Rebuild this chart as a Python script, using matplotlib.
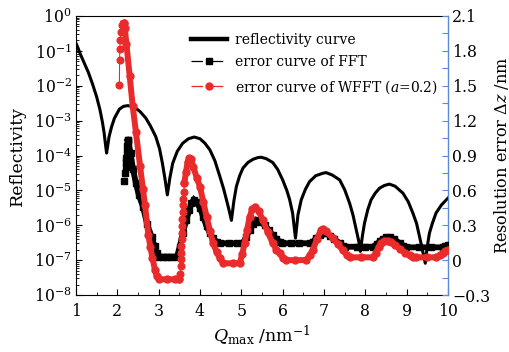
import numpy as np
import matplotlib
matplotlib.use("Agg")
import matplotlib.pyplot as plt
from matplotlib.lines import Line2D
from matplotlib.ticker import FixedLocator, FuncFormatter, LogLocator, NullFormatter

plt.rcParams['font.family'] = ['DejaVu Serif']
plt.rcParams['mathtext.fontset'] = 'dejavuserif'

# ---------------- data ----------------
# reflectivity curve: Q_max (nm^-1) and log10(reflectivity)
refl_q = [1.00, 1.05, 1.10, 1.20, 1.30, 1.40, 1.50, 1.58, 1.64, 1.68, 1.71, 1.74,
          1.77, 1.80, 1.86, 1.93, 2.05, 2.15, 2.25, 2.35, 2.45, 2.55, 2.69, 2.80,
          2.93, 3.02, 3.09, 3.15, 3.21, 3.27, 3.34, 3.45, 3.58, 3.72, 3.86, 4.00,
          4.12, 4.24, 4.36, 4.48, 4.57, 4.64, 4.70, 4.76, 4.82, 4.88, 4.96, 5.04,
          5.16, 5.28, 5.40, 5.48, 5.60, 5.76, 5.88, 6.00, 6.10, 6.17, 6.24, 6.31,
          6.37, 6.45, 6.55, 6.65, 6.80, 6.97, 7.05, 7.20, 7.38, 7.50, 7.62, 7.70,
          7.78, 7.84, 7.88, 7.93, 7.98, 8.06, 8.14, 8.24, 8.34, 8.46, 8.58, 8.72,
          8.91, 9.04, 9.15, 9.24, 9.31, 9.38, 9.45, 9.50, 9.55, 9.62, 9.71, 9.84,
          10.00]
refl_log = [-0.78, -0.92, -1.08, -1.35, -1.62, -1.95, -2.32, -2.69, -3.05, -3.35, -3.65, -3.93,
            -3.70, -3.46, -3.18, -2.93, -2.67, -2.59, -2.57, -2.59, -2.65, -2.74, -2.93, -3.15,
            -3.46, -3.80, -4.22, -4.65, -5.13, -4.65, -4.22, -3.88, -3.65, -3.52, -3.47, -3.52,
            -3.65, -3.84, -4.15, -4.60, -4.95, -5.27, -5.55, -5.86, -5.30, -4.89, -4.58, -4.36,
            -4.20, -4.11, -4.06, -4.05, -4.09, -4.20, -4.40, -4.70, -5.00, -5.27, -5.65, -6.37,
            -5.70, -5.27, -4.97, -4.75, -4.58, -4.51, -4.49, -4.56, -4.70, -4.98, -5.37, -5.70,
            -6.13, -6.45, -6.75, -6.30, -5.94, -5.55, -5.27, -5.08, -4.94, -4.86, -4.82, -4.88,
            -5.08, -5.33, -5.65, -5.95, -6.32, -6.70, -7.09, -6.60, -6.23, -5.95, -5.65, -5.42,
            -5.22]

# FFT resolution error (nm): sparse start, then dense band
fft_start_q = [2.17, 2.19, 2.20, 2.21, 2.22, 2.23, 2.24, 2.25]
fft_start_v = [0.68, 0.75, 0.80, 0.84, 0.88, 0.93, 0.98, 1.03]
fft_q = [2.25, 2.27, 2.32, 2.38, 2.45, 2.52, 2.62, 2.72, 2.83, 2.90, 2.95, 2.98,
         3.10, 3.20, 3.30, 3.44, 3.48, 3.51, 3.58, 3.67, 3.74, 3.79, 3.85, 3.90,
         4.00, 4.08, 4.16, 4.24, 4.32, 4.40, 4.48, 4.70, 4.90, 5.04, 5.12, 5.20,
         5.28, 5.36, 5.44, 5.57, 5.66, 5.76, 5.85, 5.93, 5.98, 6.20, 6.40, 6.65,
         6.73, 6.81, 6.90, 6.97, 7.05, 7.15, 7.25, 7.38, 7.45, 7.52, 7.80, 8.00,
         8.18, 8.28, 8.36, 8.42, 8.50, 8.60, 8.70, 8.83, 8.92, 8.99, 9.30, 9.60,
         9.87, 9.93, 10.00]
fft_v = [1.03, 1.02, 0.92, 0.78, 0.66, 0.56, 0.46, 0.31, 0.20, 0.12, 0.06, 0.03,
         0.03, 0.03, 0.03, 0.03, 0.07, 0.115, 0.23, 0.345, 0.43, 0.49, 0.52, 0.50,
         0.45, 0.37, 0.29, 0.23, 0.187, 0.16, 0.145, 0.145, 0.145, 0.15, 0.20, 0.26,
         0.31, 0.345, 0.33, 0.30, 0.26, 0.216, 0.18, 0.16, 0.145, 0.145, 0.145, 0.145,
         0.16, 0.187, 0.22, 0.23, 0.23, 0.21, 0.18, 0.145, 0.125, 0.115, 0.115, 0.115,
         0.115, 0.14, 0.165, 0.18, 0.195, 0.195, 0.18, 0.145, 0.125, 0.11, 0.11, 0.11,
         0.11, 0.12, 0.13]

# WFFT (a=0.2) resolution error (nm)
wfft_start_q = [2.05, 2.055, 2.06, 2.07, 2.09, 2.12, 2.15]
wfft_start_v = [1.51, 1.72, 1.82, 1.89, 1.96, 2.02, 2.04]
wfft_q1 = [2.15, 2.18, 2.22, 2.30, 2.37, 2.45, 2.55, 2.62, 2.67, 2.75, 2.80, 2.85,
           2.91, 2.96, 3.02, 3.20, 3.40, 3.50]
wfft_v1 = [2.04, 2.00, 1.86, 1.58, 1.33, 1.10, 0.81, 0.61, 0.47, 0.22, 0.11, 0.02,
           -0.085, -0.14, -0.165, -0.165, -0.165, -0.165]
wfft_rise_q = [3.50, 3.52, 3.53, 3.54, 3.545, 3.55, 3.555, 3.56, 3.565, 3.57, 3.58,
               3.59, 3.60, 3.61, 3.62]
wfft_rise_v = [-0.165, -0.12, -0.05, 0.01, 0.06, 0.12, 0.18, 0.23, 0.29, 0.35, 0.41,
               0.47, 0.53, 0.59, 0.66]
wfft_q2 = [3.62, 3.66, 3.70, 3.74, 3.78, 3.84, 3.92, 4.00, 4.08, 4.16, 4.24, 4.32,
           4.40, 4.48, 4.56, 4.80, 4.96, 5.02, 5.08, 5.14, 5.20, 5.27, 5.34, 5.42,
           5.52, 5.64, 5.76, 5.85, 5.93, 6.00, 6.09, 6.30, 6.57, 6.65, 6.73, 6.83,
           6.93, 6.97, 7.05, 7.21, 7.33, 7.45, 7.55, 7.62, 7.90, 8.18, 8.25, 8.32,
           8.38, 8.46, 8.54, 8.62, 8.72, 8.83, 8.95, 9.07, 9.15, 9.23, 9.50, 9.71,
           9.80, 9.87, 9.93, 10.00]
wfft_v2 = [0.66, 0.76, 0.84, 0.876, 0.87, 0.80, 0.71, 0.63, 0.50, 0.373, 0.25, 0.145,
           0.07, 0.016, -0.027, -0.027, -0.027, 0.05, 0.145, 0.26, 0.373, 0.44, 0.46, 0.42,
           0.345, 0.24, 0.145, 0.09, 0.06, 0.02, 0.0, 0.0, 0.0, 0.04, 0.09, 0.18,
           0.26, 0.27, 0.25, 0.188, 0.14, 0.087, 0.045, 0.024, 0.024, 0.024, 0.06, 0.11,
           0.145, 0.165, 0.167, 0.155, 0.13, 0.10, 0.065, 0.04, 0.03, 0.024, 0.024, 0.024,
           0.04, 0.06, 0.08, 0.09]

x_ticks = [1, 2, 3, 4, 5, 6, 7, 8, 9, 10]
right_ticks = [-0.3, 0, 0.3, 0.6, 0.9, 1.2, 1.5, 1.8, 2.1]
labels = ['reflectivity curve', 'error curve of FFT', 'error curve of WFFT ($a$=0.2)']

RED = '#ea2b2b'
BLUE = '#5b8ad6'

# ---------------- figure ----------------
fig = plt.figure(figsize=(5.10, 3.52), dpi=100)
ax = fig.add_axes([76/510, 1-295/352, (448-76)/510, (295-16)/352])
ax2 = ax.twinx()

ax.plot(refl_q, 10**np.array(refl_log), color='k', lw=2.2, zorder=3)
ax.set_yscale('log')
ax.set_ylim(1e-8, 1)
ax.set_xlim(1, 10)
ax.yaxis.set_major_locator(LogLocator(base=10, numticks=20))
ax.yaxis.set_minor_locator(LogLocator(base=10, subs=np.arange(2, 10), numticks=100))
ax.yaxis.set_minor_formatter(NullFormatter())
ax.xaxis.set_major_locator(FixedLocator(x_ticks))
ax.xaxis.set_minor_locator(FixedLocator(np.array(x_ticks[:-1]) + 0.5))
ax.tick_params(axis='both', which='major', direction='in', length=4.5, width=0.8,
               labelsize=11.3, top=False, right=False, pad=3)
ax.tick_params(axis='x', which='major', pad=6)
ax.tick_params(axis='both', which='minor', direction='in', length=2.5, width=0.6,
               top=False, right=False)
ax.spines['right'].set_visible(False)

# error curves on right axis
ax2.plot(fft_start_q, fft_start_v, color='k', lw=0.8, marker='s', ms=4.2,
         dashes=(3, 2), zorder=4)
ax2.plot(fft_q, fft_v, color='k', lw=4.2, marker='s', ms=4.8, zorder=4,
         solid_joinstyle='miter')
ax2.plot(wfft_start_q, wfft_start_v, color=RED, lw=0.8, marker='o', ms=4.8, zorder=5)
ax2.plot(wfft_q1, wfft_v1, color=RED, lw=4.3, marker='o', ms=5.0, zorder=5)
ax2.plot(wfft_rise_q, wfft_rise_v, color=RED, lw=0.8, marker='o', ms=4.8, zorder=5)
ax2.plot(wfft_q2, wfft_v2, color=RED, lw=4.3, marker='o', ms=5.0, zorder=5)
ax2.set_ylim(-0.3, 2.1)
ax2.yaxis.set_major_locator(FixedLocator(right_ticks))
ax2.yaxis.set_minor_locator(FixedLocator(np.array(right_ticks[:-1]) + 0.15))
ax2.yaxis.set_major_formatter(FuncFormatter(lambda v, p: ('%g' % round(v, 2)).replace('-', '\u2212')))
ax2.tick_params(axis='y', which='major', direction='in', length=4.5, width=0.8,
                color=BLUE, labelsize=11.3, labelcolor='k', pad=3)
ax2.tick_params(axis='y', which='minor', direction='in', length=4.5, width=0.8, color=BLUE)
for s in ['left', 'top', 'bottom']:
    ax2.spines[s].set_visible(False)
ax2.spines['right'].set_color(BLUE)
ax2.spines['right'].set_linewidth(1.0)

ax.set_ylabel('Reflectivity', fontsize=12.5, labelpad=6)
ax2.set_ylabel(r'Resolution error $\Delta z$ /nm', fontsize=11.6, labelpad=1)
ax.set_xlabel(r'$Q_{\rm max}$ /nm$^{-1}$', fontsize=12.5, labelpad=2)

handles = [
    Line2D([], [], color='k', lw=3.2),
    Line2D([], [], color='k', lw=0.9, marker='s', ms=4.5, dashes=(9.2, 7.0)),
    Line2D([], [], color=RED, lw=0.9, marker='o', ms=5.0, dashes=(9.2, 7.0)),
]
leg = ax2.legend(handles, labels, loc='upper left', bbox_to_anchor=(0.308, 0.94),
                 frameon=False, fontsize=10.0, handlelength=2.6, handletextpad=0.6,
                 labelspacing=0.62, borderaxespad=0, borderpad=0)

fig.savefig('out.png', dpi=100)
